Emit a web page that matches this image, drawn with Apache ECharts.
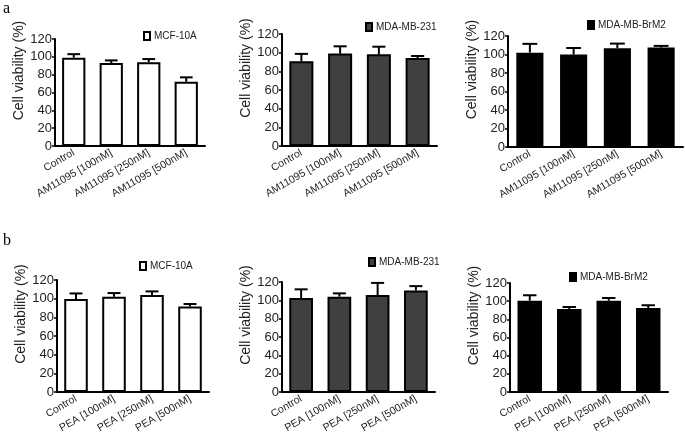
<!DOCTYPE html>
<html><head><meta charset="utf-8">
<script src="https://cdn.jsdelivr.net/npm/echarts@6/dist/echarts.min.js"></script>
<style>html,body{margin:0;padding:0;background:#fff}#c{width:685px;height:441px}</style>
</head><body><div id="c"></div>
<script>
// ---- data ----
const catsA = ['Control','AM11095 [100nM]','AM11095 [250nM]','AM11095 [500nM]'];
const catsB = ['Control','PEA [100nM]','PEA [250nM]','PEA [500nM]'];
const yTicks = [0,20,40,60,80,100,120];
const cellLines = ['MCF-10A','MDA-MB-231','MDA-MB-BrM2'];

const aMCF = [99, 93, 94, 72];
const aMCFErr = [4, 3, 3.5, 5];
const a231 = [90.7, 99, 98.2, 94.3];
const a231Err = [8, 7.8, 8.2, 2.1];
const aBrM2 = [102, 100, 106.8, 107.5];
const aBrM2Err = [9.5, 7, 5, 1.8];

const bMCF = [99.6, 102, 104, 91.5];
const bMCFErr = [6, 4, 3.8, 2.8];
const b231 = [102.5, 104, 105.8, 110.8];
const b231Err = [9.5, 3.6, 13.2, 4.7];
const bBrM2 = [100.5, 91.4, 100.5, 92.5];
const bBrM2Err = [6, 2.2, 3, 3];

// ---- layout ----
const panels = [
  {cats: catsA, vals: aMCF,  err: aMCFErr,  name: cellLines[0], color:'#ffffff', grid:{left:55, top:39, width:150, height:107}, leg:{left:143, top:31}},
  {cats: catsA, vals: a231,  err: a231Err,  name: cellLines[1], color:'#404040', grid:{left:282, top:34, width:155, height:112}, leg:{left:365, top:22}},
  {cats: catsA, vals: aBrM2, err: aBrM2Err, name: cellLines[2], color:'#000000', grid:{left:508, top:36, width:175, height:111}, leg:{left:587, top:20}},
  {cats: catsB, vals: bMCF,  err: bMCFErr,  name: cellLines[0], color:'#ffffff', grid:{left:57, top:280, width:152, height:112}, leg:{left:139, top:261}},
  {cats: catsB, vals: b231,  err: b231Err,  name: cellLines[1], color:'#404040', grid:{left:282, top:282, width:153, height:110}, leg:{left:368, top:257}},
  {cats: catsB, vals: bBrM2, err: bBrM2Err, name: cellLines[2], color:'#000000', grid:{left:510, top:283, width:158, height:109}, leg:{left:569, top:272}}
];

const font = "'Liberation Sans', Arial, sans-serif";
const grid = [], xAxis = [], yAxis = [], series = [], legend = [];
panels.forEach((p, i) => {
  grid.push(Object.assign({containLabel:false}, p.grid));
  xAxis.push({
    type:'category', gridIndex:i, data:p.cats,
    axisLine:{lineStyle:{color:'#000', width:2}},
    axisTick:{alignWithLabel:true, length:4, lineStyle:{color:'#000', width:1.5}},
    axisLabel:{rotate:30, fontSize:10.5, color:'#222', fontFamily:font, margin:6, interval:0}
  });
  yAxis.push({
    type:'value', gridIndex:i, min:yTicks[0], max:yTicks[yTicks.length-1], interval:20,
    splitLine:{show:false},
    axisLine:{show:true, lineStyle:{color:'#000', width:2}},
    axisTick:{show:true, length:3, lineStyle:{color:'#000', width:1.5}},
    axisLabel:{fontSize:13, color:'#222', fontFamily:font, margin:3},
    name:'Cell viability (%)', nameLocation:'middle', nameGap:27,
    nameTextStyle:{fontSize:14, color:'#222', fontFamily:font, padding:[0,0,0,44]}
  });
  series.push({
    type:'bar', name:p.name, xAxisIndex:i, yAxisIndex:i, data:p.vals,
    barWidth:'62%',
    itemStyle:{color:p.color, borderColor:'#000', borderWidth:2},
    z:2
  });
  series.push({
    type:'custom', name:p.name + ' err', xAxisIndex:i, yAxisIndex:i,
    data:p.vals.map((v, k) => [k, v, p.err[k]]),
    encode:{x:0, y:1},
    z:3,
    renderItem:function(params, api){
      const k = api.value(0), v = api.value(1), e = api.value(2);
      const p0 = api.coord([k, v]);
      const p1 = api.coord([k, v + e]);
      const half = api.size([1, 0])[0] * 0.17;
      return {type:'group', children:[
        {type:'line', shape:{x1:p0[0], y1:p0[1], x2:p1[0], y2:p1[1]}, style:{stroke:'#000', lineWidth:2}},
        {type:'line', shape:{x1:p1[0]-half, y1:p1[1], x2:p1[0]+half, y2:p1[1]}, style:{stroke:'#000', lineWidth:2}}
      ]};
    }
  });
  legend.push({
    left:p.leg.left, top:p.leg.top, padding:0, itemWidth:6, itemHeight:8, itemGap:4,
    selectedMode:false,
    data:[{name:p.name, icon:'rect', itemStyle:{color:p.color, borderColor:'#000', borderWidth:2}}],
    textStyle:{fontSize:10, color:'#222', fontFamily:font, padding:[0,0,0,-1]}
  });
});

const chart = echarts.init(document.getElementById('c'), null, {renderer:'canvas'});
chart.setOption({
  animation:false,
  backgroundColor:'#fff',
  grid, xAxis, yAxis, series, legend,
  graphic:[
    {type:'text', left:3, top:1, style:{text:'a', fontSize:16, fontFamily:"'Liberation Serif', 'Times New Roman', serif", fill:'#000'}},
    {type:'text', left:3, top:233, style:{text:'b', fontSize:16, fontFamily:"'Liberation Serif', 'Times New Roman', serif", fill:'#000'}}
  ]
});
</script></body></html>
